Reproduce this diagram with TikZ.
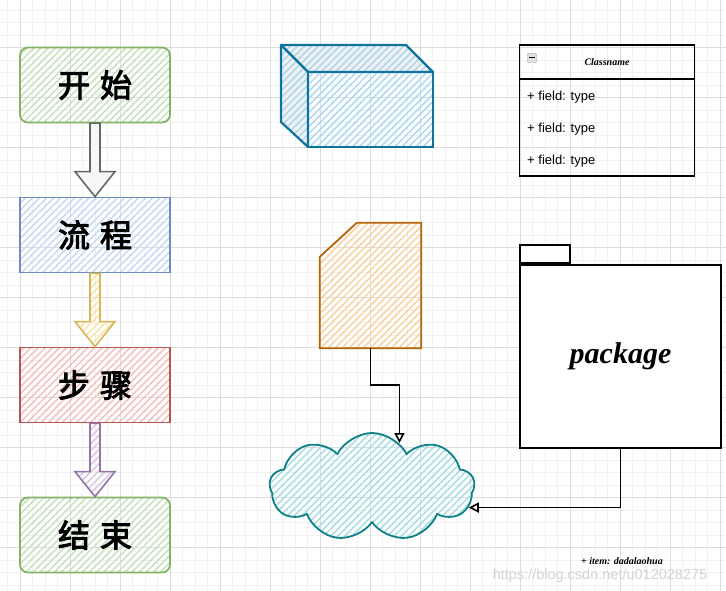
\documentclass[tikz,border=0pt]{standalone}
\usepackage{fontspec}
\newfontfamily\cjk{Noto Sans CJK SC}[AutoFakeBold=3]
\newfontfamily\arialfont{Liberation Sans}
\newfontfamily\handfont{Liberation Serif}
\usetikzlibrary{shapes.symbols, arrows.meta, patterns.meta, calc, positioning}

\definecolor{gridminor}{HTML}{F1F1F1}
\definecolor{gridmajor}{HTML}{DDDDDD}
\definecolor{greenline}{HTML}{82B366}
\definecolor{greenhatch}{HTML}{C4E0B9}
\definecolor{blueline}{HTML}{6C8EBF}
\definecolor{bluehatch}{HTML}{C3D8F5}
\definecolor{yellowline}{HTML}{D6B656}
\definecolor{yellowhatch}{HTML}{FAE3A0}
\definecolor{redline}{HTML}{B85450}
\definecolor{redhatch}{HTML}{F4BDB9}
\definecolor{purpleline}{HTML}{9673A6}
\definecolor{purplehatch}{HTML}{D6C6DF}
\definecolor{grayline}{HTML}{666666}
\definecolor{cubeline}{HTML}{10739E}
\definecolor{cubehatch}{HTML}{A6D7EE}
\definecolor{cardline}{HTML}{B46504}
\definecolor{cardhatch}{HTML}{F9CF9C}
\definecolor{cloudline}{HTML}{0E8088}
\definecolor{cloudhatch}{HTML}{A4DCE0}

% block arrow between two flow boxes
\newcommand{\blockarrow}[3]{%
  \draw[#3] ($(#1.south)+(-5,0)$) -- ($(#2.north)+(-5,-25)$) -- ($(#2.north)+(-20,-25)$)
    -- (#2.north) -- ($(#2.north)+(20,-25)$) -- ($(#2.north)+(5,-25)$) -- ($(#1.south)+(5,0)$) -- cycle;}

\tikzset{
  hatch/.style={pattern={Lines[angle=45,distance=5pt,line width=1.4pt]}, pattern color=#1},
  flowbox/.style={draw, line width=1.8pt, minimum width=150, minimum height=75,
    font=\cjk\bfseries\fontsize{32}{32}\selectfont},
  umlbox/.style={draw, line width=1.8pt, minimum width=175},
  field/.style={anchor=west, inner sep=0, font=\arialfont\fontsize{13}{13}\selectfont},
  conn/.style={draw, line width=1.6pt, -{Triangle[open, length=10pt, width=10pt]}}
}

\begin{document}
\begin{tikzpicture}[x=1pt, y=-1pt]
\useasboundingbox (0,0) rectangle (726,591);
% background grid
\foreach \x in {7.5,20,...,726} \draw[gridminor, line width=0.8pt] (\x,0) -- (\x,591);
\foreach \y in {10,22.5,...,591} \draw[gridminor, line width=0.8pt] (0,\y) -- (726,\y);
\foreach \x in {20,70,...,726} \draw[gridmajor, line width=0.9pt] (\x,0) -- (\x,591);
\foreach \y in {47.5,97.5,...,591} \draw[gridmajor, line width=0.9pt] (0,\y) -- (726,\y);

% flow
\node[flowbox, rounded corners=8, draw=greenline, hatch=greenhatch] (start) at (95,85) {开\hspace{10pt}始};
\node[flowbox, draw=blueline, hatch=bluehatch] (flow) at (95,235) {流\hspace{10pt}程};
\node[flowbox, draw=redline, hatch=redhatch] (steps) at (95,385) {步\hspace{10pt}骤};
\node[flowbox, rounded corners=8, draw=greenline, hatch=greenhatch] (finish) at (95,535) {结\hspace{10pt}束};

\blockarrow{start}{flow}{grayline, line width=1.6pt, fill=gray!6}
\blockarrow{flow}{steps}{yellowline, line width=1.6pt, hatch=yellowhatch}
\blockarrow{steps}{finish}{purpleline, line width=1.6pt, hatch=purplehatch}

% cube
\draw[cubeline, line width=2.2pt, line join=round, preaction={fill=gray!12}, hatch=cubehatch]
  (281,45) -- (406,45) -- (433,72) -- (308,72) -- cycle;
\draw[cubeline, line width=2.2pt, line join=round, preaction={fill=gray!12}, hatch=cubehatch]
  (281,45) -- (308,72) -- (308,147) -- (281,122) -- cycle;
\draw[cubeline, line width=2.2pt, hatch=cubehatch] (308,72) rectangle (433,147);

% class
\node[umlbox, minimum height=34] (clshead) at (607,62) {\handfont\bfseries\itshape\fontsize{10}{10}\selectfont Classname};
\node[umlbox, minimum height=97, below=-1.8pt of clshead] (clsbody) {};
\node[draw=gray!80, fill=gray!25, minimum size=9, inner sep=0, rounded corners=1] (fold) at (532,58) {};
\draw[line width=1pt] ($(fold.west)+(2,0)$) -- ($(fold.east)+(-2,0)$);
\foreach \y [count=\i] in {97,129,161}
  \node[field] (f\i) at (527,\y) {+ field: type};

% card
\node[minimum width=101, minimum height=125, inner sep=0] (card) at (370.5,285.5) {};
\draw[cardline, line width=1.8pt, hatch=cardhatch] ($(card.north west)+(37,0)$) -- (card.north east)
  -- (card.south east) -- (card.south west) -- ($(card.north west)+(0,34)$) -- cycle;

% cloud
\node[cloud, cloud puffs=9, cloud puff arc=125, aspect=2.1, draw=cloudline, line width=1.8pt,
  hatch=cloudhatch, minimum width=205, minimum height=108] (cloud) at (372,487) {};

% package
\node[draw, line width=1.8pt, fill=white, minimum width=201, minimum height=183,
  font=\handfont\bfseries\itshape\fontsize{30}{30}\selectfont] (pkg) at (620.5,356.5) {package};
\node[draw, line width=1.8pt, fill=white, minimum width=50, minimum height=18, anchor=south west] (pkgtab) at (pkg.north west) {};

% connectors
\draw[conn] (card.south) -- ++(0,37) -| (cloud.58);
\draw[conn] (pkg.south) |- (cloud.-12);

\node[font=\handfont\bfseries\itshape\fontsize{10}{10}\selectfont] (item) at (622,561) {+ item: dadalaohua};
\node[text=gray!35, font=\arialfont\fontsize{14.5}{14.5}\selectfont] (mark) at (600,576) {https://blog.csdn.net/u012028275};
\end{tikzpicture}
\end{document}
